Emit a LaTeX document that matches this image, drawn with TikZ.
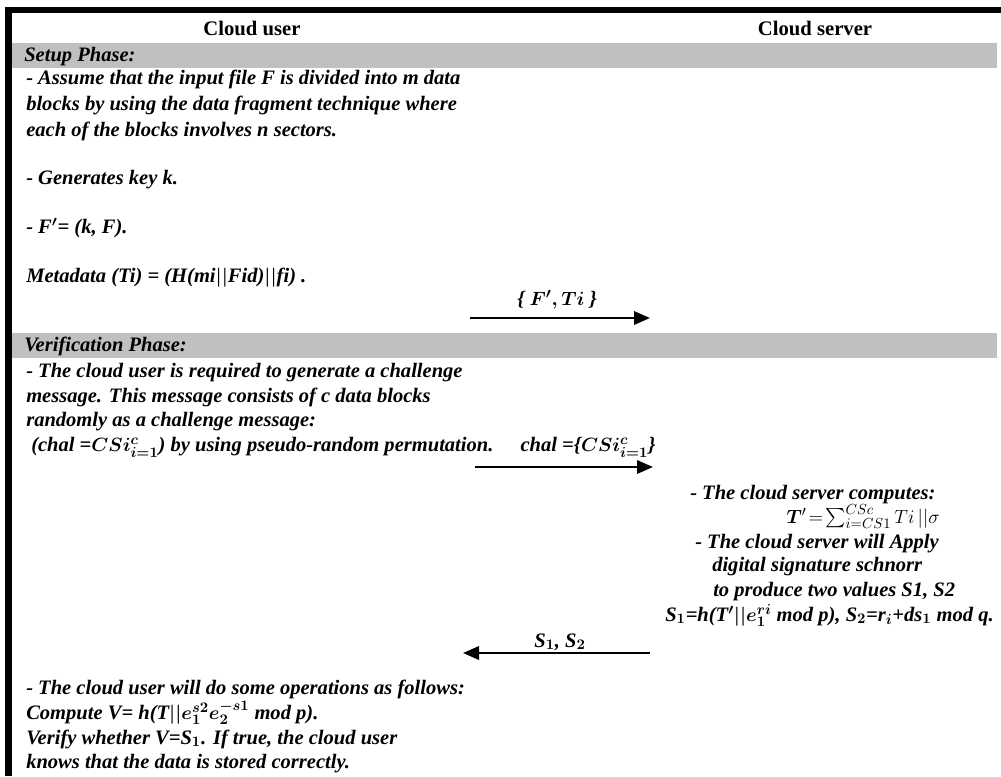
\documentclass[tikz,border=0pt]{standalone}
\usepackage{fontspec}
\setmainfont{Liberation Serif}
\usepackage{amsmath,bm}
\usetikzlibrary{arrows.meta,positioning}
\definecolor{phasegray}{RGB}{192,192,192}
\tikzset{
>={Stealth[length=12pt,width=10pt,inset=0pt]},
colhead/.style={font=\fontsize{15.5}{18}\selectfont\bfseries, inner sep=0pt},
phasebar/.style={fill=phasegray, draw=none},
usertext/.style={anchor=base west, font=\fontsize{15.4}{18}\selectfont\bfseries\itshape\boldmath, inner sep=0pt},
msg/.style={anchor=base, font=\fontsize{15.4}{18}\selectfont\bfseries\itshape\boldmath, inner sep=0pt},
line/.style={draw, line width=1.8pt, ->},
border/.style={draw, line width=5pt},
}

\begin{document}
\begin{tikzpicture}[x=0.75pt, y=-0.75pt]
\useasboundingbox (0,0) rectangle (1001,776);

% frame and phase bars
\draw[border] (8.5,776) -- (8.5,10) -- (1001,10);
\fill[phasebar] (12,43) rectangle (997,68);
\fill[phasebar] (12,333) rectangle (997,358);

\node[colhead] (user) at (252,28) {Cloud user};
\node[colhead] (server) at (815,28) {Cloud server};

% setup phase
\node[usertext] (setup) at (24,61) {Setup Phase:};
\node[usertext] (assume1) at (26,84) {- Assume that the input file F is divided into m data};
\node[usertext] (assume2) at (26,110) {blocks by using the data fragment technique where};
\node[usertext] (assume3) at (26,136) {each of the blocks involves n sectors.};
\node[usertext] (keygen) at (26,184) {- Generates key k.};
\node[usertext] (fprime) at (26,233) {- F$'$= (k, F).};
\node[usertext] (meta) at (26,282) {Metadata (Ti) = (H(mi$||$Fid)$||$fi) .};

\coordinate (send_from) at (470,318);
\coordinate (send_to) at (650,318);
\path[line] (send_from) -- (send_to);
\node[msg] (send_lbl) at (557,305) {\{ $\bm{F}',\bm{Ti}$ \}};

% verification phase
\node[usertext] (verify) at (24,351) {Verification Phase:};
\node[usertext] (chal1) at (26,377) {- The cloud user is required to generate a challenge};
\node[usertext] (chal2) at (26,402) {message. This message consists of c data blocks};
\node[usertext] (chal3) at (26,426) {randomly as a challenge message:};
\node[usertext] (chal4) at (31,451) {(chal =$\bm{CSi}^{c}_{i=1}$) by using pseudo-random permutation.};

\node[msg] (chal_lbl) at (588,451) {chal =\{$\bm{CSi}^{c}_{i=1}$\}};
\coordinate (chal_from) at (475,467);
\coordinate (chal_to) at (653,467);
\path[line] (chal_from) -- (chal_to);

% server side
\node[usertext] (srv1) at (690,499) {- The cloud server computes:};
\node[usertext, anchor=base east, font=\fontsize{15.4}{18}\selectfont\unboldmath] (srv2) at (940,523) {$\bm{T}'\!=\!\sum_{i=CS1}^{CSc} Ti\,||\sigma$};
\node[usertext] (srv3) at (695,548) {- The cloud server will Apply};
\node[usertext] (srv4) at (712,571) {digital signature schnorr};
\node[usertext] (srv5) at (713,596) {to produce two values S1, S2};
\node[usertext] (srv6) at (665,621) {S$_1$=h(T$'||e_1^{ri}$ mod p),\ S$_2$=r$_i$+ds$_1$ mod q.};

\node[msg] (resp_lbl) at (560,647) {S$_1$, S$_2$};
\coordinate (resp_from) at (650,653);
\coordinate (resp_to) at (463,653);
\path[line] (resp_from) -- (resp_to);

% check on user side
\node[usertext] (check1) at (26,694) {- The cloud user will do some operations as follows:};
\node[usertext] (check2) at (26,719) {Compute V= h(T$||e_1^{s2}e_2^{-s1}$ mod p).};
\node[usertext] (check3) at (26,744) {Verify whether V=S$_1$. If true, the cloud user};
\node[usertext] (check4) at (26,768) {knows that the data is stored correctly.};

\end{tikzpicture}
\end{document}
